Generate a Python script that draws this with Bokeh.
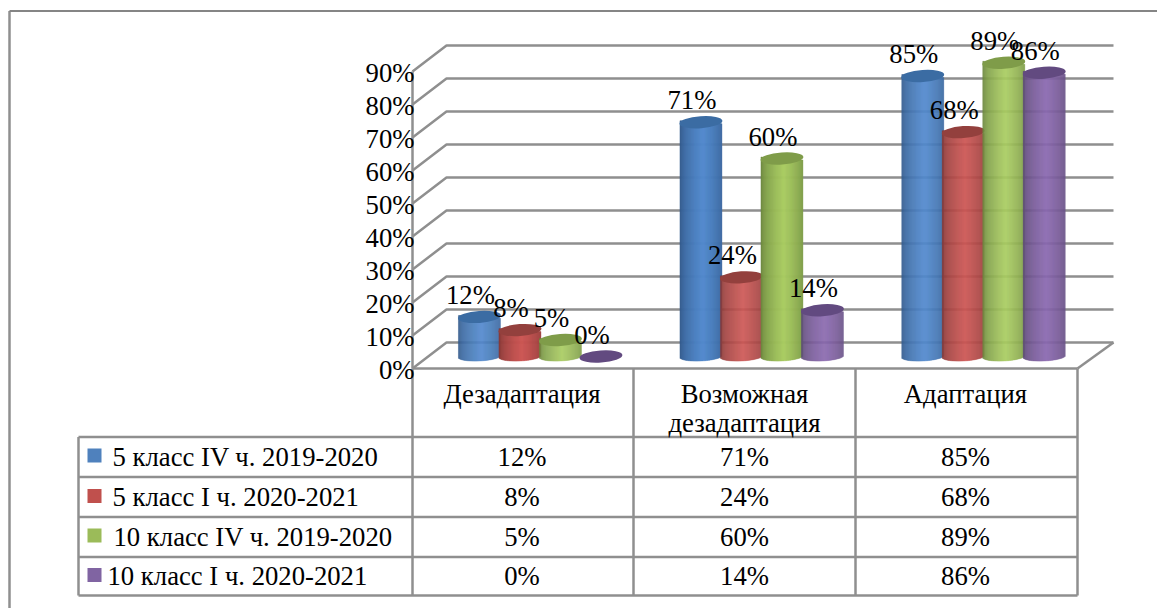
import math
from bokeh.plotting import figure
from bokeh.embed import file_html
from bokeh.resources import INLINE
from bokeh.core.properties import value
from bokeh.models import ColumnDataSource

categories = ["Дезадаптация", "Возможная\nдезадаптация", "Адаптация"]
series_names = ["5 класс IV ч. 2019-2020", "5 класс I ч. 2020-2021",
                "10 класс IV ч. 2019-2020", "10 класс I ч. 2020-2021"]
s1 = [12, 71, 85]
s2 = [8, 24, 68]
s3 = [5, 60, 89]
s4 = [0, 14, 86]
series = [s1, s2, s3, s4]
y_ticks = [0, 10, 20, 30, 40, 50, 60, 70, 80, 90]

legend_colors = ["#4f81bd", "#c0504d", "#9bbb59", "#8064a2"]
edge_colors = [(0x2f, 0x55, 0x85), (0x80, 0x36, 0x34), (0x65, 0x80, 0x3a), (0x58, 0x46, 0x70)]
mid_colors = [(0x52, 0x8a, 0xce), (0xcd, 0x56, 0x54), (0xa9, 0xcc, 0x62), (0x8b, 0x69, 0xb0)]
top_colors = ["#3b6ca3", "#93403d", "#7f9c49", "#624a80"]

PX = 3.3          # pixels per percentage point
BASE = 356        # screen y of the 0 level in the plane of the cylinders
FONT = value("Liberation Serif")
FS = "26.7px"
GRID = "#8f8f8f"


def Y(px):
    """page y in pixels -> value on the percent scale"""
    return (BASE - px) / PX


p = figure(width=1157, height=608, output_backend="svg", toolbar_location=None,
           x_range=(0, 1157), y_range=(Y(608), Y(0)),
           x_axis_location=None, y_axis_location=None, min_border=0,
           outline_line_color=None, background_fill_color="white")
p.grid.visible = False

# outer frame
p.line([9, 9], [Y(608), Y(10.5)], line_color=GRID, line_width=2.5)
p.line([9, 1157], [Y(10.5), Y(10.5)], line_color="#858585", line_width=2)

# walls
FRONT = BASE - 368   # px shift of the front plane (negative = lower)
BACK = BASE - 342
for t in y_ticks:
    yb = t + BACK / PX
    yf = t + FRONT / PX
    p.line([412, 446, 1113], [yf, yb, yb], line_color=GRID, line_width=2.5)
p.line([412, 412], [0 + FRONT / PX, 90 + FRONT / PX], line_color=GRID, line_width=2.5)
p.line([412, 1077], [FRONT / PX, FRONT / PX], line_color=GRID, line_width=2.5)
p.line([1077, 1113], [FRONT / PX, BACK / PX], line_color=GRID, line_width=2.5)

# table
row_lines = [436.5, 476.5, 516.5, 556.5, 595]
col_lines = [412, 633, 855, 1077]
for c in col_lines:
    p.line([c, c], [Y(368), Y(595)], line_color=GRID, line_width=2.5)
for i, r in enumerate(row_lines):
    p.line([78, 1077], [Y(r), Y(r)], line_color=GRID, line_width=2.5)
p.line([78, 78], [Y(436.5), Y(595)], line_color=GRID, line_width=2.5)

# cylinders
HALF = 21
group_center = [539.7, 761.2, 983]
pitch = 40.5
for k, vals in enumerate(series):
    xs0, xs1, tops, bots, cols = [], [], [], [], []
    ex, ey = [], []
    for g, v in enumerate(vals):
        cx = group_center[g] + (k - 1.5) * pitch
        ex.append(cx)
        ey.append(v)
        if v == 0:
            continue
        for i in range(-HALF, HALF):
            t = (i + 0.5) / HALF
            s = max(0.0, 1 - abs(t - 0.1) / 1.1) ** 0.55
            c = tuple(int(round(e + (m - e) * s)) for e, m in zip(edge_colors[k], mid_colors[k]))
            xs0.append(cx + i)
            xs1.append(cx + i + 1)
            tops.append(v - 1.5 * t / PX)
            bots.append(-(4.5 * math.sqrt(max(0, 1 - t * t)) - 1.0 * t) / PX)
            cols.append("#%02x%02x%02x" % c)
    src = ColumnDataSource(dict(l=xs0, r=xs1, t=tops, b=bots, c=cols))
    p.quad(left="l", right="r", top="t", bottom="b", fill_color="c", line_color="c",
           line_width=0.4, source=src)
    p.ellipse(x=ex, y=ey, width=43, height=12, width_units="screen", height_units="screen",
              angle=0.07, fill_color=top_colors[k], line_color=None)

# data labels
for k, vals in enumerate(series):
    lx = [group_center[g] + (k - 1.5) * pitch for g in range(3)]
    p.text(x=lx, y=vals, text=["%d%%" % v for v in vals], text_font=FONT, text_font_size=FS,
           text_align="center", text_baseline="middle", x_offset=-9, y_offset=-22, text_color="black")

# y tick labels
p.text(x=[414] * len(y_ticks), y=[t + FRONT / PX for t in y_ticks], text=["%d%%" % t for t in y_ticks],
       text_font=FONT, text_font_size=FS, text_align="right", text_baseline="middle", y_offset=1,
       text_color="black")

# table header
col_centers = [521.5, 744, 965]
header_y = [393, 422]
for c, name in zip(col_centers, categories):
    for ln, part in enumerate(name.split("\n")):
        p.text(x=[c], y=[Y(header_y[ln])], text=[part], text_font=FONT, text_font_size=FS,
               text_align="center", text_baseline="middle", text_color="black")

# table rows
row_y = [456, 496.5, 536, 575.5]
legend_x = [112, 112, 113, 107]
for k, vals in enumerate(series):
    p.quad(left=[87], right=[101], top=[Y(row_y[k] - 8)], bottom=[Y(row_y[k] + 6)],
           fill_color=legend_colors[k], line_color=None)
    p.text(x=[legend_x[k]], y=[Y(row_y[k])], text=[series_names[k]], text_font=FONT, text_font_size=FS,
           text_align="left", text_baseline="middle", text_color="black")
    p.text(x=col_centers, y=[Y(row_y[k])] * 3, text=["%d%%" % v for v in vals], text_font=FONT,
           text_font_size=FS, text_align="center", text_baseline="middle", text_color="black")

open("out.html", "w").write(file_html(p, INLINE))
